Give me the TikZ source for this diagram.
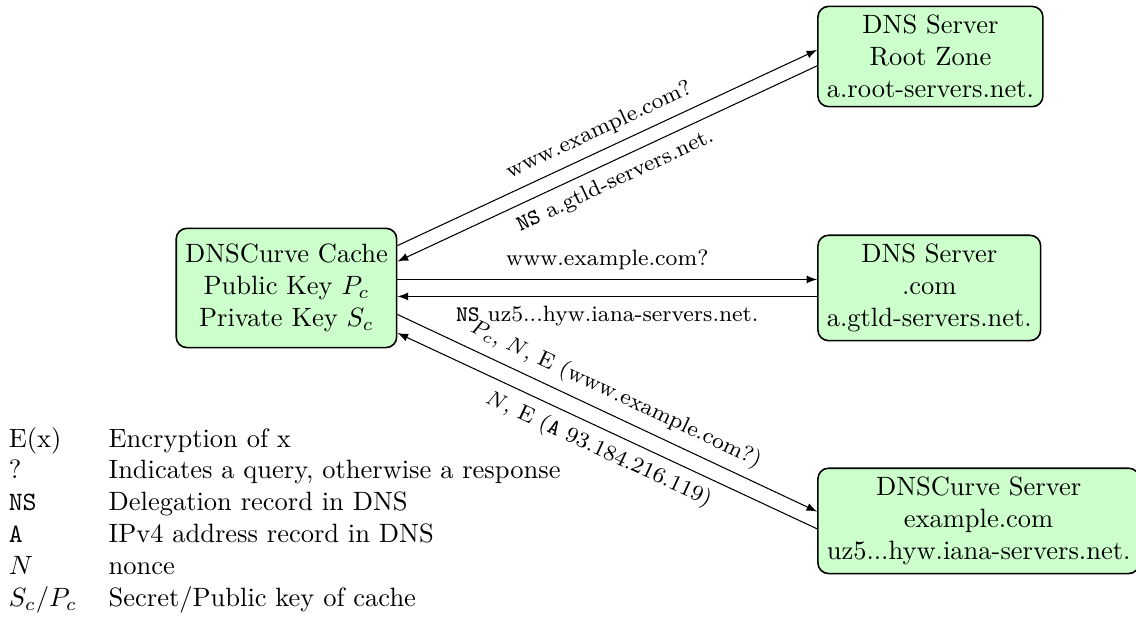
\documentclass[tikz,border=0pt]{standalone}
\usepackage{amssymb}
\usepackage{tikz}
\usetikzlibrary{arrows}

\begin{document}
\begin{tikzpicture}[>=latex,
  server/.style={draw, semithick, rounded corners, fill=green!20, align=center},
  msg/.style={font=\fontsize{8.4}{10}\selectfont, sloped}]
\useasboundingbox (0,0) rectangle (15.07,8.22);

\node [server, minimum height=45pt] (cache) at (3.80,4.40) {DNSCurve Cache\\ Public Key $P_c$\\ Private Key $S_c$};
\node [server, anchor=west] (root) at (10.84,7.47) {DNS Server\\ Root Zone\\ a.root-servers.net.};
\node [server, anchor=west] (com) at (10.84,4.40) {DNS Server\\ .com\\ a.gtld-servers.net.};
\node [server, anchor=west] (curve) at (10.84,1.31) {DNSCurve Server\\ example.com\\ uz5...hyw.iana-servers.net.};

% root zone
\draw [->] ([yshift=16pt]cache.east) -- ([yshift=2.5pt]root.west) node [msg, midway, above] {www.example.com?};
\draw [<-] ([yshift=10pt]cache.east) -- ([yshift=-3.5pt]root.west) node [msg, midway, below] {\texttt{NS} a.gtld-servers.net.};

% .com
\draw [->] ([yshift=3.2pt]cache.east) -- ([yshift=3.2pt]com.west) node [msg, midway, above] {www.example.com?};
\draw [<-] ([yshift=-3.2pt]cache.east) -- ([yshift=-3.2pt]com.west) node [msg, midway, below] {\texttt{NS} uz5...hyw.iana-servers.net.};

% example.com
\draw [->] ([yshift=-10pt]cache.east) -- ([yshift=3.5pt]curve.west) node [msg, midway, above] {$P_c$, $N$, E (www.example.com?)};
\draw [<-] ([yshift=-17pt]cache.east) -- ([yshift=-3pt]curve.west) node [msg, midway, below] {$N$, E (\texttt{A} 93.184.216.119)};

\node [anchor=north west, inner sep=0pt] (legend) at (0.11,2.59) {%
\begin{tabular}{@{}ll@{}}
E(x) & Encryption of x\\
? & Indicates a query, otherwise a response\\
\texttt{NS} & Delegation record in DNS\\
\texttt{A} & IPv4 address record in DNS\\
$N$ & nonce\\
$S_c/P_c$ & Secret/Public key of cache
\end{tabular}};
\end{tikzpicture}
\end{document}
